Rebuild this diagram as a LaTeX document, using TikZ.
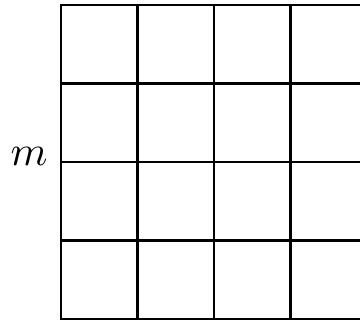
\documentclass[tikz,border=0pt]{standalone}
\begin{document}
\begin{tikzpicture}[x=1pt,y=1pt,gridline/.style={line width=2.1pt,black}]
\useasboundingbox (0,0) rectangle (360,321);
\begin{scope}
\clip (0,0) rectangle (360,321);
\foreach \x in {61,137.5,214,290.5} \draw[gridline,line cap=rect] (\x,2) -- (\x,316);
\foreach \y in {316,237.5,159,80.5,2} \draw[gridline,line cap=rect] (61,\y) -- (380,\y);
\end{scope}
\node[anchor=base,inner sep=0pt,scale=4.2] (m) at (29,155) {$m$};
\end{tikzpicture}
\end{document}
